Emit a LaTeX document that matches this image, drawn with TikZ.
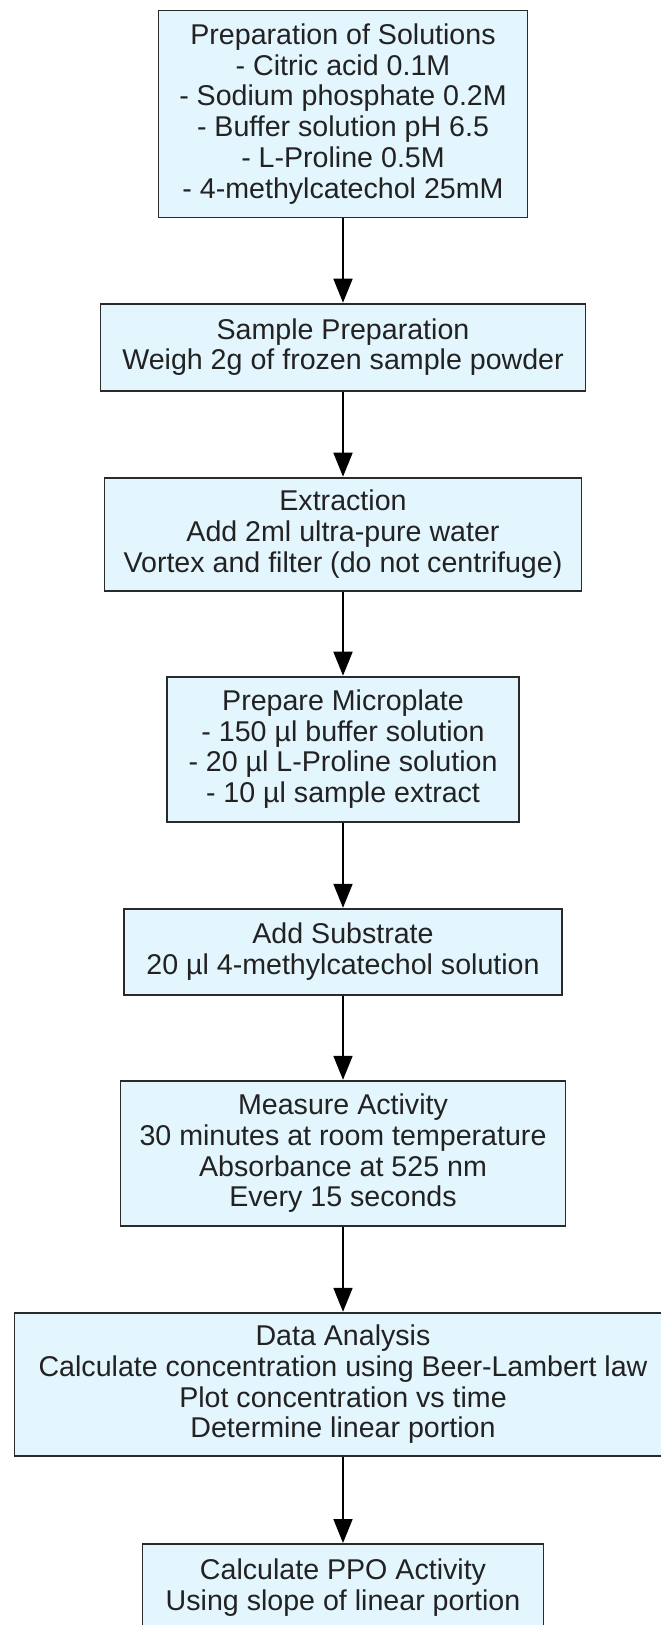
\documentclass[tikz,border=0pt]{standalone}
\usepackage{fontspec}
\setmainfont{Liberation Sans}
\usepackage{xcolor}
\usetikzlibrary{arrows.meta}
\definecolor{boxfill}{HTML}{E3F5FD}
\definecolor{boxline}{HTML}{2A2A2A}
\definecolor{boxtext}{HTML}{222222}

\begin{document}
\begin{tikzpicture}[x=1pt, y=1pt,
  stepbox/.style={draw=boxline, fill=boxfill, line width=1.8pt, align=center,
    text=boxtext, font=\fontsize{28.6}{30.8}\selectfont, inner sep=0pt},
  flow/.style={black, line width=1.8pt, -{Triangle[length=24pt, width=19pt]}}]
  \useasboundingbox (0,0) rectangle (661,-1625);
  \node[stepbox, minimum width=369pt, minimum height=207pt] (prep) at (343,-114.0)
    {Preparation of Solutions\\- Citric acid 0.1M\\- Sodium phosphate 0.2M\\- Buffer solution pH 6.5\\- L-Proline 0.5M\\- 4-methylcatechol 25mM};
  \node[stepbox, minimum width=485pt, minimum height=87pt] (sample) at (343,-347.1)
    {Sample Preparation\\Weigh 2g of frozen sample powder};
  \node[stepbox, minimum width=477pt, minimum height=113pt] (extract) at (343,-534.1)
    {Extraction\\Add 2ml ultra-pure water\\Vortex and filter (do not centrifuge)};
  \node[stepbox, minimum width=352pt, minimum height=145pt] (plate) at (343,-749.1)
    {Prepare Microplate\\- 150 µl buffer solution\\- 20 µl L-Proline solution\\- 10 µl sample extract};
  \node[stepbox, minimum width=438pt, minimum height=86pt] (substrate) at (343,-951.7)
    {Add Substrate\\20 µl 4-methylcatechol solution};
  \node[stepbox, minimum width=445pt, minimum height=145pt] (measure) at (343,-1153.2)
    {Measure Activity\\30 minutes at room temperature\\Absorbance at 525 nm\\Every 15 seconds};
  \node[stepbox, minimum width=657pt, minimum height=143pt] (analysis) at (343,-1384.2)
    {Data Analysis\\Calculate concentration using Beer-Lambert law\\Plot concentration vs time\\Determine linear portion};
  \node[stepbox, minimum width=401pt, minimum height=87pt] (ppo) at (343,-1587.4)
    {Calculate PPO Activity\\Using slope of linear portion};
  \draw[flow] (prep) -- (sample);
  \draw[flow] (sample) -- (extract);
  \draw[flow] (extract) -- (plate);
  \draw[flow] (plate) -- (substrate);
  \draw[flow] (substrate) -- (measure);
  \draw[flow] (measure) -- (analysis);
  \draw[flow] (analysis) -- (ppo);
\end{tikzpicture}
\end{document}
